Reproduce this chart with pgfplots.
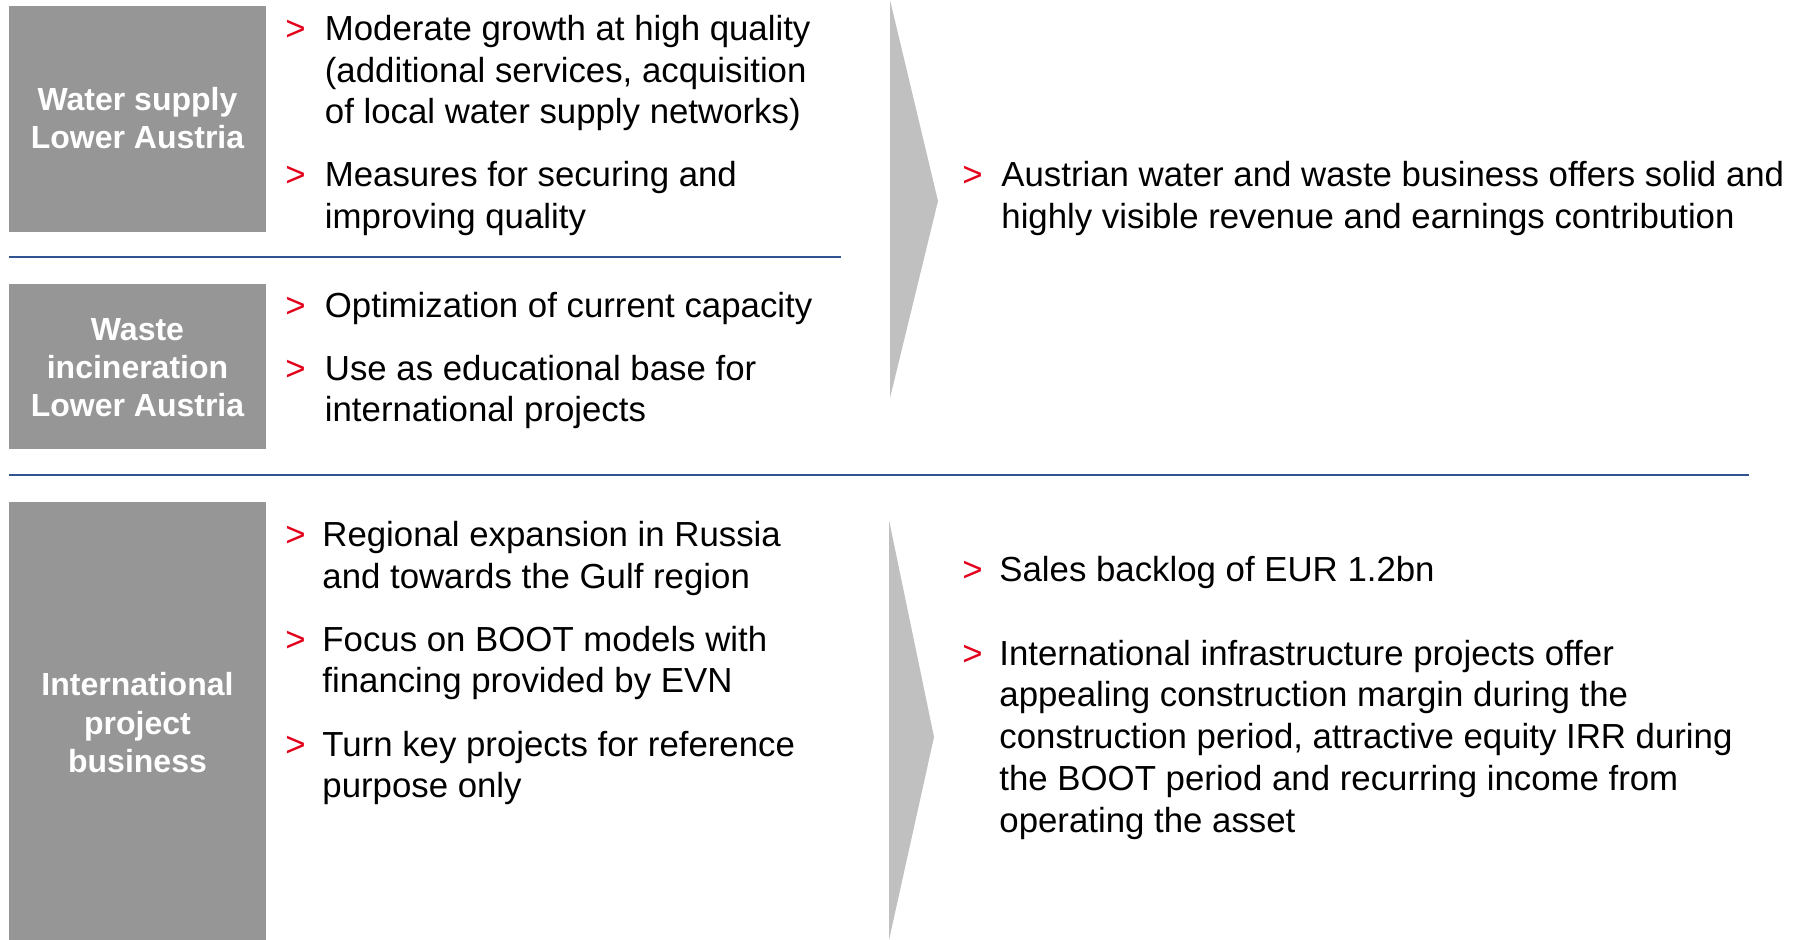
\documentclass[border=0pt]{standalone}
\usepackage{pgfplots}
\pgfplotsset{compat=1.18}
\usepackage{fontspec}
\setmainfont{Liberation Sans}
\definecolor{boxgrey}{RGB}{150,150,150}
\definecolor{chevgrey}{RGB}{192,192,192}
\definecolor{lineblue}{RGB}{47,84,145}
\definecolor{bulletred}{RGB}{226,0,26}
\newcommand{\mainfnt}{\fontsize{17.4pt}{20.5pt}\selectfont}
\newcommand{\lblfnt}{\fontsize{16pt}{19pt}\selectfont\bfseries}
% text line: x, baseline y, text
\newcommand{\txt}[3]{\node[anchor=base west,inner sep=0pt,font=\mainfnt,text=black] at (axis cs:#1,#2) {#3};}
% bullet: x, baseline y
\newcommand{\bul}[2]{\node[anchor=base west,inner sep=0pt,font=\mainfnt,text=bulletred] at (axis cs:#1,#2) {>};}
% box label line: baseline y, text
\newcommand{\lbl}[2]{\node[anchor=base,inner sep=0pt,font=\lblfnt,text=white] at (axis cs:137.5,#1) {#2};}
\begin{document}
\begin{tikzpicture}
\begin{axis}[
  name=ax,
  width=900pt, height=470pt, scale only axis,
  xmin=0, xmax=1800, ymin=0, ymax=940,
  y dir=reverse,
  hide axis, clip=false,
]
% grey label boxes
\addplot[fill=boxgrey, draw=none, mark=none] coordinates {(9,6) (266,6) (266,232) (9,232)};
\addplot[fill=boxgrey, draw=none, mark=none] coordinates {(9,284) (266,284) (266,449) (9,449)};
\addplot[fill=boxgrey, draw=none, mark=none] coordinates {(9,502) (266,502) (266,940) (9,940)};
% chevrons
\addplot[fill=chevgrey, draw=none, mark=none] coordinates {(890,0) (938,201) (890,398)};
\addplot[fill=chevgrey, draw=none, mark=none] coordinates {(889,520) (934,737) (889,940)};
% separator lines
\addplot[color=lineblue, line width=1.3pt, mark=none] coordinates {(9,257) (841,257)};
\addplot[color=lineblue, line width=1.3pt, mark=none] coordinates {(9,475) (1749,475)};

% box labels
\lbl{111}{Water supply}
\lbl{148.5}{Lower Austria}
\lbl{341}{Waste}
\lbl{379}{incineration}
\lbl{417}{Lower Austria}
\lbl{696}{International}
\lbl{734}{project}
\lbl{772}{business}

% top-left bullets
\bul{285}{41}
\txt{324.5}{41}{Moderate growth at high quality}
\txt{324.5}{82.3}{(additional services, acquisition}
\txt{324.5}{123.6}{of local water supply networks)}
\bul{285}{187}
\txt{324.5}{187}{Measures for securing and}
\txt{324.5}{228.3}{improving quality}
\bul{285}{317.5}
\txt{324.5}{317.5}{Optimization of current capacity}
\bul{285}{380.7}
\txt{324.5}{380.7}{Use as educational base for}
\txt{324.5}{422}{international projects}

% bottom-left bullets
\bul{285}{547}
\txt{322}{547}{Regional expansion in Russia}
\txt{322}{588.5}{and towards the Gulf region}
\bul{285}{651.5}
\txt{322}{651.5}{Focus on BOOT models with}
\txt{322}{693}{financing provided by EVN}
\bul{285}{756}
\txt{322}{756}{Turn key projects for reference}
\txt{322}{797.5}{purpose only}

% right top
\bul{962}{187}
\txt{1001}{187}{Austrian water and waste business offers solid and}
\txt{1001}{228.3}{highly visible revenue and earnings contribution}

% right bottom
\bul{962}{581.5}
\txt{999}{581.5}{Sales backlog of EUR 1.2bn}
\bul{962}{665.5}
\txt{999}{665.5}{International infrastructure projects offer}
\txt{999}{706.8}{appealing construction margin during the}
\txt{999}{748.2}{construction period, attractive equity IRR during}
\txt{999}{790.6}{the BOOT period and recurring income from}
\txt{999}{832}{operating the asset}
\end{axis}
\pgfresetboundingbox
\path[use as bounding box] (ax.south west) rectangle (ax.north east);
\end{tikzpicture}
\end{document}
